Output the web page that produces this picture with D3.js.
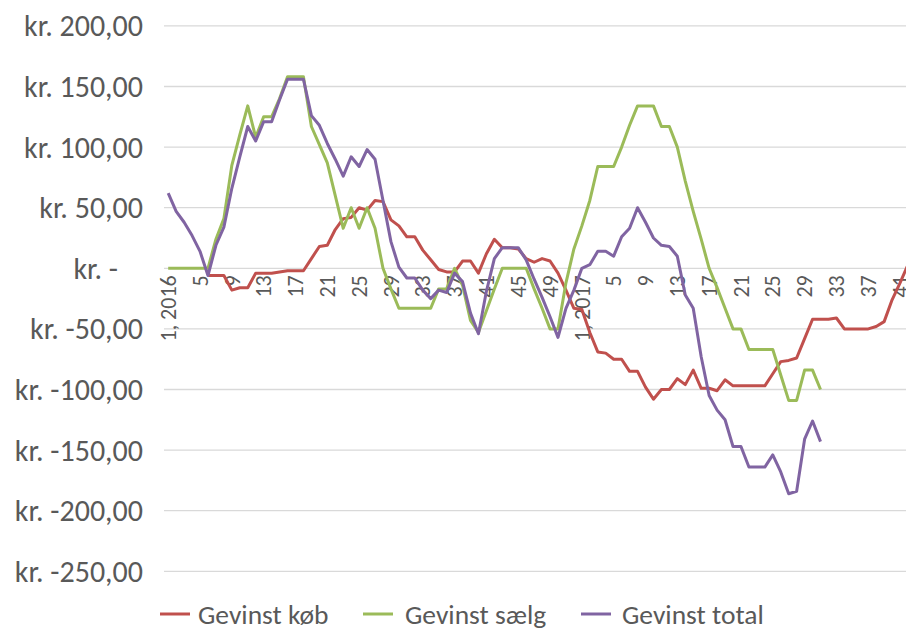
<!DOCTYPE html>
<html>
<head>
<meta charset="utf-8">
<script src="https://cdn.jsdelivr.net/npm/d3@7"></script>
<style>
  body { margin: 0; background: #fff; }
  text { font-family: Carlito, Calibri, Lato, sans-serif; fill: #595959; }
</style>
</head>
<body>
<svg id="chart" width="906" height="628"></svg>
<script>
// weeks per year on the category axis
const years = [2016, 2017];
const weeksInYear = [52, 52];

// Gevinst køb (starts in week 6, 2016)
const gevinstKoeb = [null, null, null, null, null, -6, -6, -6, -18, -16,
  -16, -4, -4, -4, -3, -2, -2, -2, 8, 18,
  19, 32, 41, 42, 50, 48, 56, 55, 40, 35,
  26, 26, 15, 7, -1, -3, -3, 6, 6, -4,
  12, 24, 17, 17, 16, 8, 5, 8, 6, -4,
  -18, -33, -34, -53, -69, -70, -75, -75, -85, -85,
  -98, -108, -100, -100, -91, -96, -84, -99, -99, -101,
  -92, -97, -97, -97, -97, -97, -87, -77, -76, -74,
  -58, -42, -42, -42, -41, -50, -50, -50, -50, -48,
  -44, -26, -12, 3];

const gevinstSaelg = [0, 0, 0, 0, 0, 0, 24, 41, 85, 110,
  134, 108, 125, 125, 140, 158, 158, 158, 117, 102,
  87, 60, 33, 50, 33, 50, 33, 0, -17, -33,
  -33, -33, -33, -33, -17, -17, 0, -14, -43, -53,
  -35, -17, 0, 0, 0, 0, -17, -33, -50, -50,
  -12, 16, 35, 56, 84, 84, 84, 100, 118, 134,
  134, 134, 117, 117, 100, 72, 47, 24, 0, -16,
  -33, -50, -50, -67, -67, -67, -67, -88, -109, -109,
  -84, -84, -100];

const gevinstTotal = [62, 47, 38, 27, 14, -6, 19, 34, 66, 92,
  117, 105, 121, 121, 139, 156, 156, 156, 126, 118,
  103, 90, 76, 92, 84, 98, 90, 56, 22, 1,
  -8, -8, -18, -25, -18, -20, -4, -11, -37, -54,
  -19, 8, 17, 17, 17, 7, -9, -24, -40, -57,
  -33, -18, 0, 3, 14, 14, 10, 26, 33, 50,
  38, 25, 19, 18, 10, -22, -33, -73, -105, -117,
  -125, -147, -147, -164, -164, -164, -154, -168, -186, -184,
  -141, -126, -143];

const yTicks = [200, 150, 100, 50, 0, -50, -100, -150, -200, -250];
const seriesNames = ['Gevinst køb', 'Gevinst sælg', 'Gevinst total'];
const seriesColors = ['#C0504D', '#9BBB59', '#8064A2'];

// build the categories: "1, 2016", 2, 3, ... "1, 2017", ...
let categories = [];
years.forEach((yr, k) => {
  for (let w = 1; w <= weeksInYear[k]; w++) {
    categories.push({id: categories.length, label: w == 1 ? `1, ${yr}` : `${w}`});
  }
});

const svg = d3.select('#chart');

const x = d3.scalePoint()
  .domain(categories.map(d => d.id))
  .range([168.2, 168.2 + 7.955 * (categories.length - 1)]);

const y = d3.scaleLinear()
  .domain([-250, 200])
  .range([571.3, 25.9]);

// gridlines
svg.append('g')
  .selectAll('line')
  .data(yTicks)
  .enter()
  .append('line')
  .attr('x1', 164)
  .attr('x2', 906)
  .attr('y1', d => y(d))
  .attr('y2', d => y(d))
  .attr('stroke', '#D9D9D9')
  .attr('stroke-width', 1.3);

// y labels, accounting style (plain hyphen as minus)
const fmt = d3.formatLocale({decimal: ',', thousands: '.', grouping: [3], currency: ['kr. ', ''], minus: '-'}).format(',.2f');
svg.append('g')
  .selectAll('text')
  .data(yTicks)
  .enter()
  .append('text')
  .attr('x', d => d == 0 ? 118 : 143)
  .attr('y', d => y(d))
  .attr('dy', '0.35em')
  .attr('text-anchor', 'end')
  .style('font-size', '30px')
  .text(d => d == 0 ? 'kr. -' : 'kr. ' + fmt(d));

// x labels every 4th week, rotated
svg.append('g')
  .selectAll('text')
  .data(categories.filter(d => d.id % 4 == 0))
  .enter()
  .append('text')
  .attr('transform', d => `translate(${x(d.id)},${y(0) + 7}) rotate(-90)`)
  .attr('dy', '0.35em')
  .attr('text-anchor', 'end')
  .style('font-size', '22px')
  .text(d => d.label);

// lines
const line = d3.line()
  .defined(d => d.v != null)
  .x(d => x(d.i))
  .y(d => y(d.v));

[gevinstKoeb, gevinstSaelg, gevinstTotal].forEach((vals, k) => {
  svg.append('path')
    .datum(vals.map((v, i) => ({i: i, v: v})))
    .attr('fill', 'none')
    .attr('stroke', seriesColors[k])
    .attr('stroke-width', 3)
    .attr('stroke-linejoin', 'round')
    .attr('d', line);
});

// legend
const legendLineX = [160, 363, 581];
const legendTextX = [198, 405, 622];
const gLegend = svg.append('g');
seriesNames.forEach((name, k) => {
  gLegend.append('line')
    .attr('x1', legendLineX[k]).attr('x2', legendLineX[k] + 30)
    .attr('y1', 614).attr('y2', 614)
    .attr('stroke', seriesColors[k])
    .attr('stroke-width', 3);
  gLegend.append('text')
    .attr('x', legendTextX[k])
    .attr('y', 614)
    .attr('dy', '0.35em')
    .style('font-size', '27.5px')
    .text(name);
});
</script>
</body>
</html>
